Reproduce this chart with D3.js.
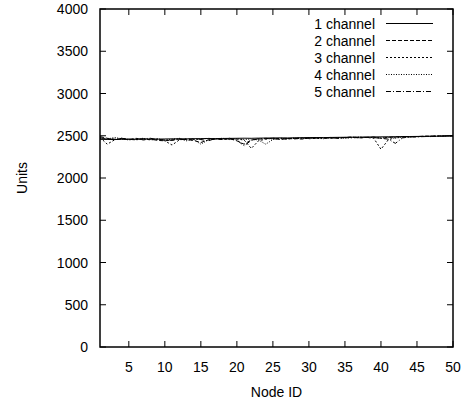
<!DOCTYPE html>
<html><head><meta charset="utf-8">
<script src="https://cdn.jsdelivr.net/npm/d3@7"></script>
<style>body{margin:0;background:#fff}svg{display:block}text{font-family:"Liberation Sans",Arial,sans-serif;font-size:14px;fill:#000}</style>
</head><body><svg id="c" width="472" height="404"></svg>
<script>
const nodes = d3.range(1, 51);
const seriesNames = ["1 channel","2 channel","3 channel","4 channel","5 channel"];
const ch1 = [2458,2456,2455,2457,2458,2459,2460,2461,2460,2462,2463,2464,2463,2465,2466,2467,2466,2468,2469,2470,2471,2470,2472,2473,2474,2475,2474,2476,2477,2478,2479,2478,2480,2481,2482,2483,2484,2485,2486,2487,2488,2489,2490,2491,2492,2493,2494,2495,2497,2498];
const ch2 = [2490,2470,2460,2465,2455,2470,2450,2460,2445,2440,2450,2460,2455,2445,2420,2450,2460,2455,2465,2440,2400,2450,2460,2465,2470,2455,2465,2470,2460,2475,2470,2480,2470,2475,2480,2485,2475,2480,2485,2470,2480,2485,2490,2485,2490,2495,2495,2498,2498,2500];
const ch3 = [2480,2400,2450,2470,2460,2455,2465,2450,2460,2440,2390,2450,2465,2455,2460,2470,2460,2465,2455,2460,2450,2350,2440,2460,2470,2465,2460,2470,2475,2465,2470,2475,2480,2470,2478,2482,2475,2480,2470,2340,2450,2480,2485,2490,2488,2492,2495,2496,2498,2500];
const ch4 = [2470,2460,2480,2465,2450,2460,2470,2455,2465,2450,2460,2470,2440,2455,2400,2450,2465,2470,2460,2465,2455,2460,2450,2400,2455,2470,2465,2472,2468,2475,2470,2465,2478,2475,2470,2480,2485,2478,2482,2475,2480,2470,2485,2488,2490,2492,2490,2495,2497,2499];
const ch5 = [2475,2465,2455,2470,2460,2450,2465,2470,2455,2450,2445,2460,2450,2465,2455,2440,2465,2460,2470,2450,2380,2445,2465,2470,2460,2470,2468,2462,2472,2470,2475,2468,2476,2472,2478,2475,2480,2482,2478,2470,2460,2410,2475,2485,2488,2490,2493,2495,2497,2500];
const allSeries = [ch1, ch2, ch3, ch4, ch5];
const dashes = [null, "4,2", "2,2", "1,1.5", "5,2,1,2"];
const xTicks = [5,10,15,20,25,30,35,40,45,50];
const yTicks = [0,500,1000,1500,2000,2500,3000,3500,4000];

const svg = d3.select("#c");
const L = 100, R = 453, T = 9, B = 347;
const x = d3.scaleLinear().domain([1, 50]).range([L, R]);
const y = d3.scaleLinear().domain([0, 4000]).range([B, T]);

// ticks (inward, mirrored)
const g = svg.append("g");
xTicks.forEach(t => {
  g.append("line").attr("x1", x(t)).attr("x2", x(t)).attr("y1", B).attr("y2", B - 6).attr("stroke", "#000");
  g.append("line").attr("x1", x(t)).attr("x2", x(t)).attr("y1", T).attr("y2", T + 6).attr("stroke", "#000");
  g.append("text").attr("x", x(t)).attr("y", B + 25).attr("text-anchor", "middle").text(t);
});
yTicks.forEach(t => {
  g.append("line").attr("x1", L).attr("x2", L + 6).attr("y1", y(t)).attr("y2", y(t)).attr("stroke", "#000");
  g.append("line").attr("x1", R).attr("x2", R - 6).attr("y1", y(t)).attr("y2", y(t)).attr("stroke", "#000");
  g.append("text").attr("x", L - 12).attr("y", y(t) + 5).attr("text-anchor", "end").text(t);
});

// lines
const line = d3.line().x((d, i) => x(nodes[i])).y(d => y(d));
allSeries.forEach((s, i) => {
  svg.append("path").datum(s).attr("d", line).attr("fill", "none").attr("stroke", "#000")
    .attr("stroke-width", 1).attr("stroke-dasharray", dashes[i]);
});

// frame
svg.append("rect").attr("x", L).attr("y", T).attr("width", R - L).attr("height", B - T)
  .attr("fill", "none").attr("stroke", "#000").attr("stroke-width", 1.5);

// legend
seriesNames.forEach((n, i) => {
  const yy = 23.5 + i * 17;
  svg.append("text").attr("x", 375).attr("y", yy + 5).attr("text-anchor", "end").text(n);
  svg.append("line").attr("x1", 386).attr("x2", 433).attr("y1", yy).attr("y2", yy)
    .attr("stroke", "#000").attr("stroke-dasharray", dashes[i]);
});

// axis labels
svg.append("text").attr("x", (L + R) / 2).attr("y", 397).attr("text-anchor", "middle").text("Node ID");
svg.append("text").attr("transform", "translate(27," + ((T + B) / 2) + ") rotate(-90)")
  .attr("text-anchor", "middle").text("Units");
</script></body></html>
